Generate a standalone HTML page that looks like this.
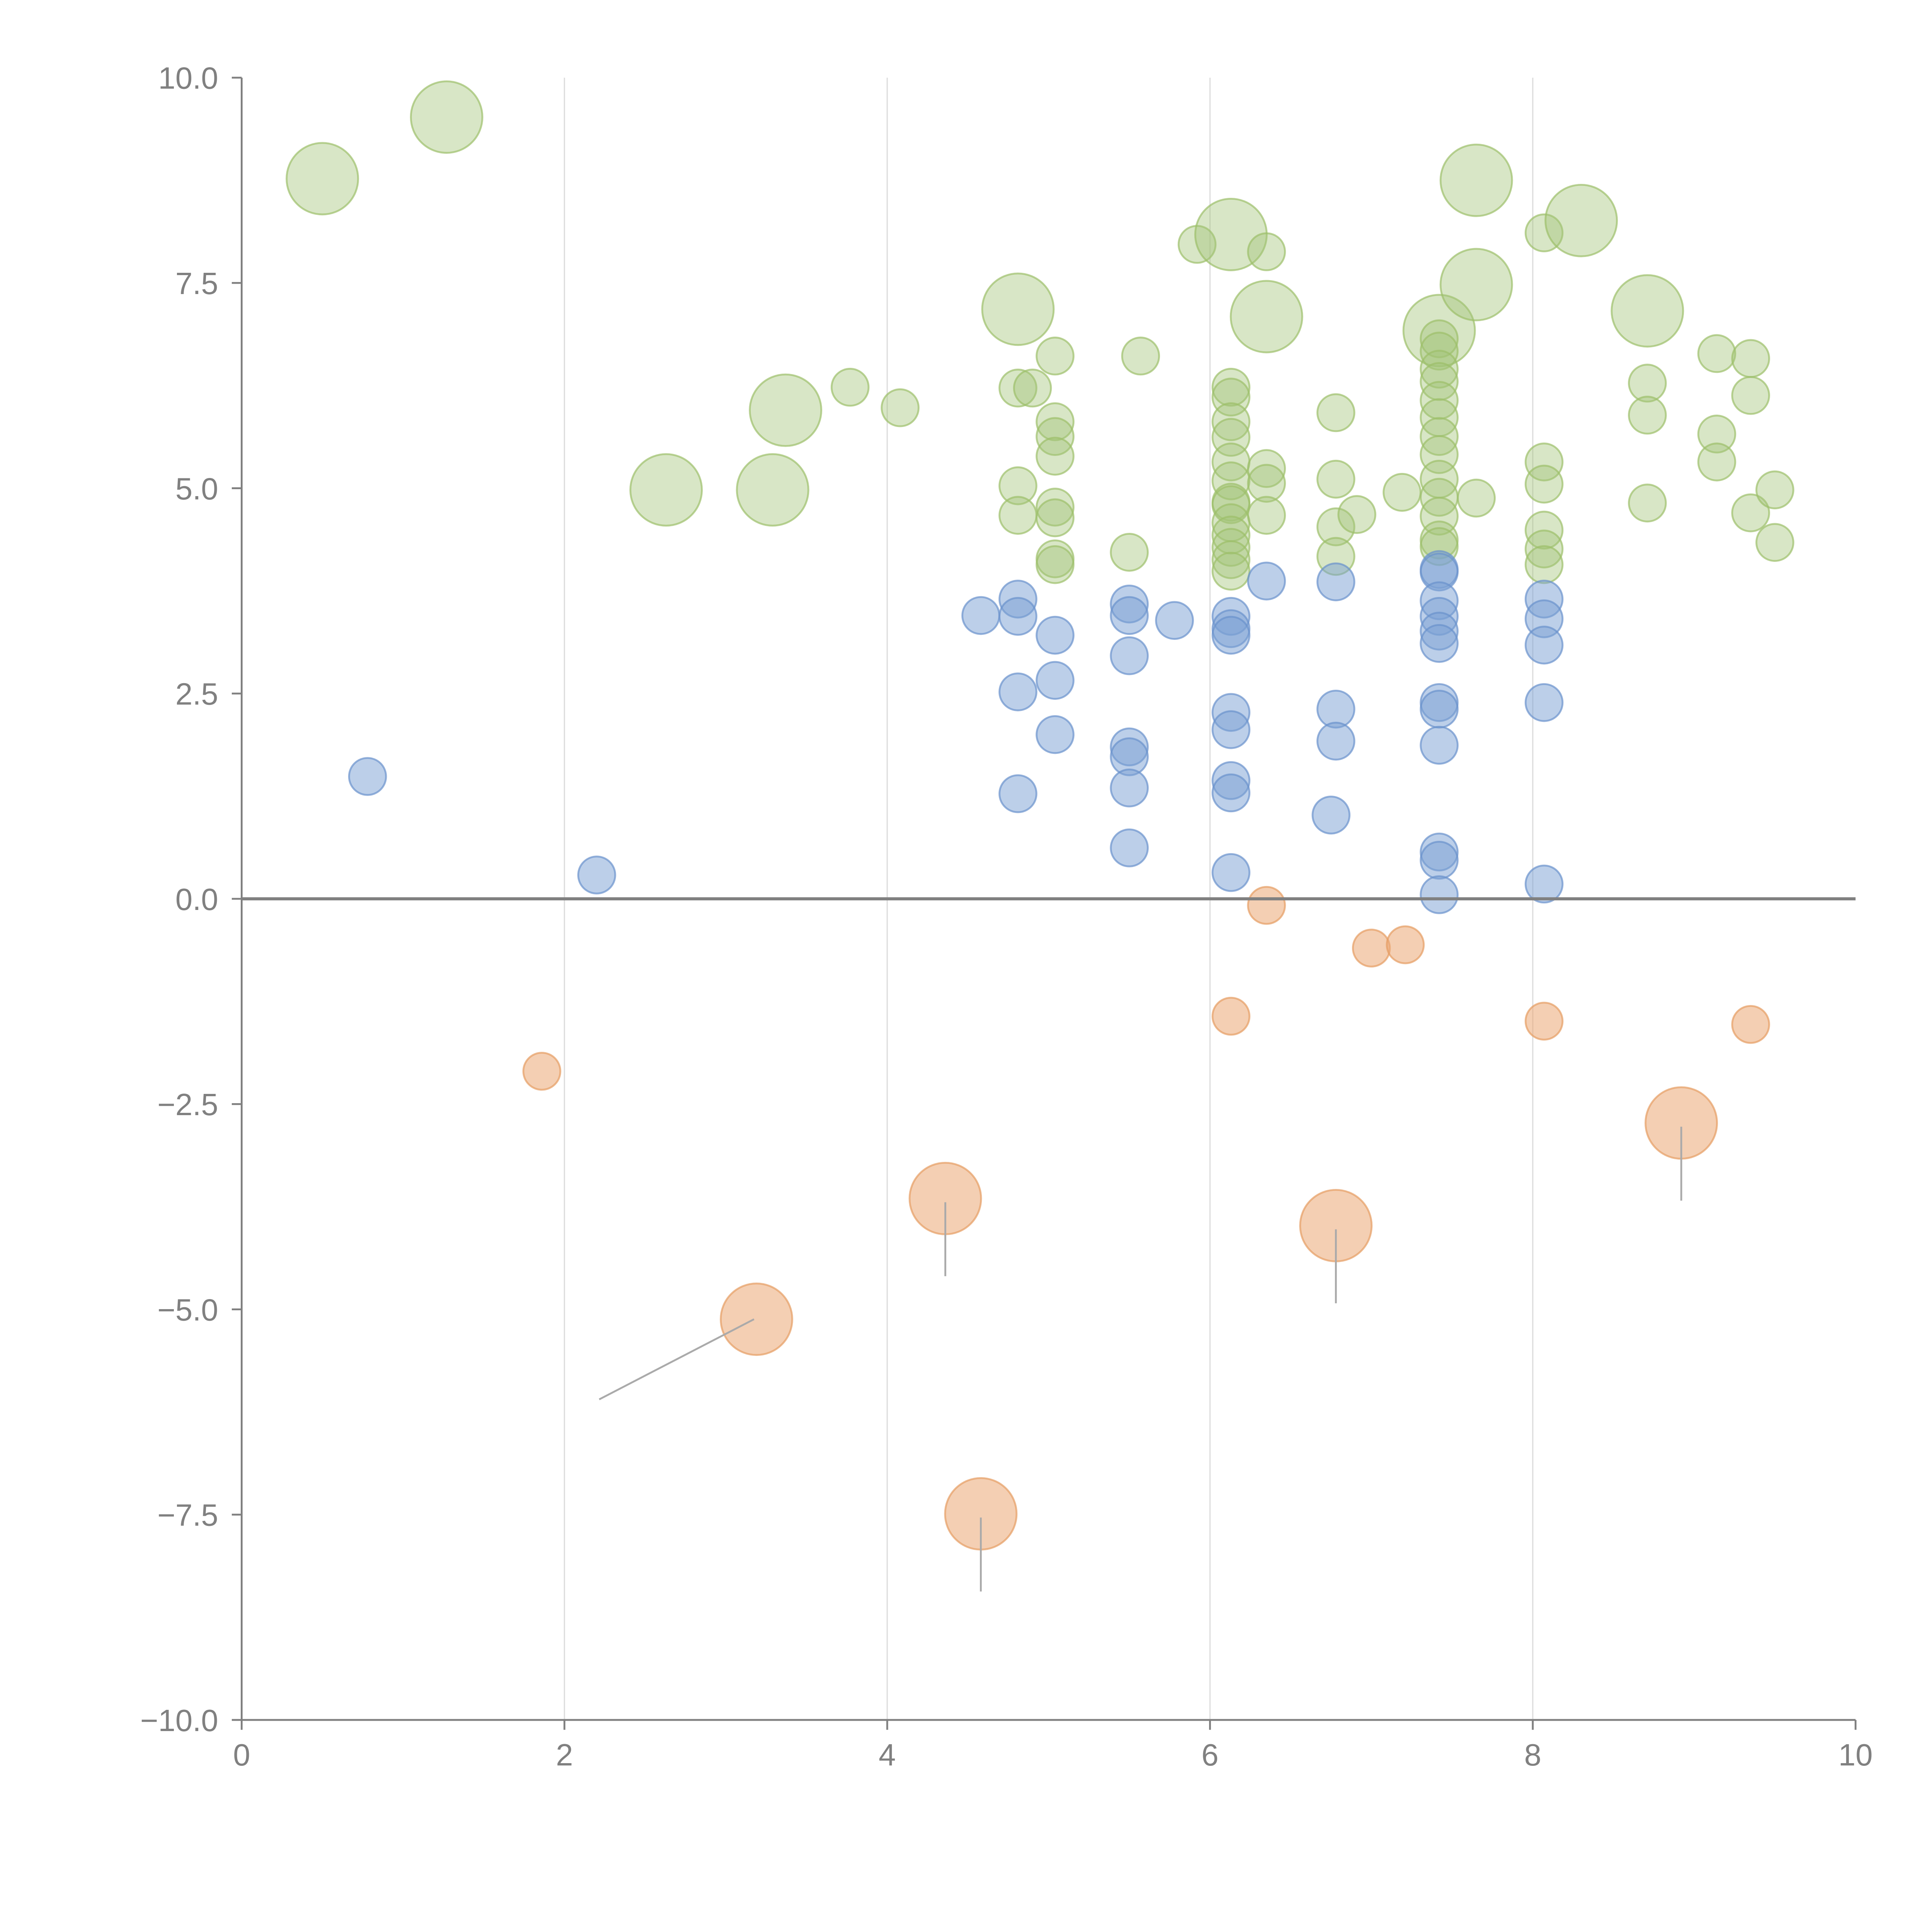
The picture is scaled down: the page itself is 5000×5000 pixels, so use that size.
<!DOCTYPE html>
<html><head><meta charset="utf-8"><style>
html,body{margin:0;padding:0;background:#fff;}
svg{display:block;font-family:"Liberation Sans",sans-serif;}
</style></head><body>
<svg id="chart" width="5000" height="5000" viewBox="0 0 1567 1567" xmlns="http://www.w3.org/2000/svg">
<g id="grid"></g>
<g id="marks"></g>
<g id="axes"></g>
</svg>
<script>
const xTicks=[0,2,4,6,8,10];
const yTicks=[-10,-7.5,-5,-2.5,0,2.5,5,7.5,10];
const yTickLabels=["\u221210.0","\u22127.5","\u22125.0","\u22122.5","0.0","2.5","5.0","7.5","10.0"];

const greenX=[0.50,1.27,2.63,3.29,3.37,3.77,4.08,4.81,4.81,4.90,4.81,4.81,5.04,5.04,5.04,5.04,5.04,5.04,5.04,5.04,5.50,5.57,5.92,6.13,
6.13,6.13,6.13,6.13,6.13,6.13,6.13,6.13,6.13,6.13,6.13,6.13,6.13,
6.35,6.35,6.35,6.35,6.35,6.78,6.78,6.78,6.78,6.91,7.19,7.42,
7.42,7.42,7.42,7.42,7.42,7.42,7.42,7.42,7.42,7.42,7.42,7.42,7.42,
7.65,7.65,7.65,8.07,8.30,8.07,8.07,8.07,8.07,8.07,8.71,8.71,8.71,8.71,9.14,9.14,9.14,9.35,9.35,9.35,9.50,9.50];
const greenY=[8.77,9.52,4.98,4.98,5.95,6.23,5.98,7.18,6.22,6.22,5.03,4.67,6.61,5.81,5.63,5.39,4.77,4.64,4.14,4.07,4.22,6.61,7.97,8.09,
6.23,6.11,5.81,5.62,5.32,5.09,4.83,4.80,4.58,4.43,4.28,4.13,3.99,
7.88,7.09,5.24,5.06,4.67,5.92,5.11,4.53,4.17,4.68,4.95,6.92,
6.82,6.67,6.45,6.30,6.07,5.86,5.63,5.41,5.11,4.89,4.66,4.37,4.29,
8.75,7.48,4.88,8.11,8.26,5.32,5.05,4.49,4.26,4.07,7.16,6.28,5.89,4.82,6.64,5.66,5.32,6.58,6.13,4.70,4.98,4.34];
const greenS=[2,2,2,2,2,1,1,2,1,1,1,1,1,1,1,1,1,1,1,1,1,1,1,2,
1,1,1,1,1,1,1,1,1,1,1,1,1,
1,2,1,1,1,1,1,1,1,1,1,2,
1,1,1,1,1,1,1,1,1,1,1,1,1,
2,2,1,1,2,1,1,1,1,1,2,1,1,1,1,1,1,1,1,1,1,1];

const blueX=[0.78,2.20,4.58,4.81,4.81,4.81,4.81,5.04,5.04,5.04,5.50,5.50,5.50,5.50,5.50,5.50,5.50,5.78,
6.13,6.13,6.13,6.13,6.13,6.13,6.13,6.13,6.35,6.78,6.78,6.78,6.75,
7.42,7.42,7.42,7.42,7.42,7.42,7.42,7.42,7.42,7.42,7.42,7.42,8.07,8.07,8.07,8.07,8.07];
const blueY=[1.49,0.29,3.45,3.65,3.44,2.52,1.28,3.21,2.66,2.00,3.59,3.45,2.96,1.85,1.73,1.35,0.62,3.39,
3.44,3.29,3.21,2.27,2.06,1.44,1.29,0.32,3.87,3.86,2.31,1.92,1.02,
4.01,3.98,3.63,3.44,3.26,3.11,2.39,2.31,1.87,0.57,0.47,0.05,3.65,3.41,3.09,2.39,0.18];

const orangeX=[1.86,3.19,4.36,4.58,6.13,6.35,6.78,7.00,7.21,8.07,8.92,9.35];
const orangeY=[-2.10,-5.12,-3.65,-7.49,-1.43,-0.08,-3.98,-0.60,-0.56,-1.49,-2.73,-1.53];
const orangeS=[1,2,2,2,1,1,2,1,1,1,2,1];

const NS="http://www.w3.org/2000/svg";
const L=196,R=1505,T=63,B=1395;
function sx(v){return L+(v-0)/(10-0)*(R-L);}
function sy(v){return B-(v+10)/20*(B-T);}
function mk(tag,attrs,parent){const e=document.createElementNS(NS,tag);for(const k in attrs)e.setAttribute(k,attrs[k]);parent.appendChild(e);return e;}
const grid=document.getElementById('grid'),marks=document.getElementById('marks'),axes=document.getElementById('axes');

xTicks.forEach(function(t){
  if(t>0&&t<10){
    const g=mk('line',{x1:sx(t),x2:sx(t),y1:T,y2:B,stroke:'#dddddd','stroke-width':1},grid);
    
    
  }
});

function drawSeries(xs,ys,ss,fill,stroke,op,name){
  xs.forEach(function(x,i){
    const r=(ss&&ss[i]===2)?29:15;
    const c=mk('circle',{cx:sx(x),cy:sy(ys[i]),r:r,fill:fill,'fill-opacity':op,stroke:stroke,'stroke-opacity':0.7,'stroke-width':1.5},marks);
    
    
  });
}
drawSeries(greenX,greenY,greenS,'#a3c476','#9dbf6a',0.42,'green-bubble');
drawSeries(blueX,blueY,null,'#7aa0d4','#6a92cc',0.5,'blue-bubble');
drawSeries(orangeX,orangeY,orangeS,'#eba874','#e59d63',0.55,'orange-bubble');

orangeX.forEach(function(x,i){
  if(orangeS[i]!==2)return;
  let x2=sx(x),y1=sy(orangeY[i])+3,y2=sy(orangeY[i])+63;
  let x1=sx(x);
  if(i===1){x1=sx(x)-2;y1=sy(orangeY[i]);x2=486;y2=1135;}
  const ln=mk('line',{x1:x1,y1:y1,x2:x2,y2:y2,stroke:'#aaaaaa','stroke-width':1.5},marks);
  
  
});

const zl=mk('line',{x1:L,x2:R,y1:sy(0),y2:sy(0),stroke:'#808080','stroke-width':2.5},axes);


const ya=mk('line',{x1:L,x2:L,y1:T,y2:B,stroke:'#808080','stroke-width':1.5},axes);


const xa=mk('line',{x1:L,x2:R,y1:B,y2:B,stroke:'#808080','stroke-width':1.5},axes);



xTicks.forEach(function(t){
  const tk=mk('line',{x1:sx(t),x2:sx(t),y1:B,y2:B+8,stroke:'#808080','stroke-width':1.5},axes);
  
  
  const tx=mk('text',{x:sx(t),y:B+37,'text-anchor':'middle','font-size':25,fill:'#808080'},axes);
  tx.textContent=String(t);
  
  
});
yTicks.forEach(function(t,i){
  const tk=mk('line',{x1:L-8,x2:L,y1:sy(t),y2:sy(t),stroke:'#808080','stroke-width':1.5},axes);
  
  
  const tx=mk('text',{x:L-19,y:sy(t)+9,'text-anchor':'end','font-size':25,fill:'#808080'},axes);
  tx.textContent=yTickLabels[i];
  
  
});
</script>
</body></html>
